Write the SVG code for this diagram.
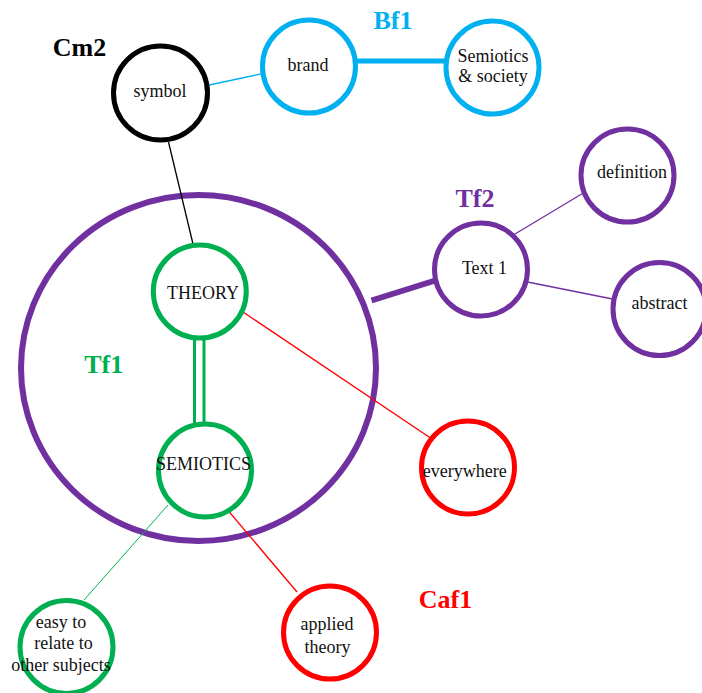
<svg xmlns="http://www.w3.org/2000/svg" width="702" height="693" viewBox="0 0 702 693">
  <style>
    .node { fill: #ffffff; stroke-width: 5; }
    .txt { font-family: "Liberation Serif", "Times New Roman", serif; font-size: 18px; fill: #111111; text-anchor: middle; }
    .lbl { font-family: "Liberation Serif", "Times New Roman", serif; font-size: 26px; font-weight: bold; text-anchor: middle; }
    .blue { stroke: #00B0F0; }
    .purple { stroke: #7030A0; }
    .green { stroke: #00B050; }
    .red { stroke: #FF0000; }
    .black { stroke: #000000; }
  </style>

  <rect x="0" y="0" width="702" height="693" fill="#ffffff"/>

  <!-- enclosing group ring -->
  <g id="group-tf1">
    <ellipse cx="198.5" cy="368" rx="177.5" ry="173" fill="none" stroke="#7030A0" stroke-width="6"/>
  </g>

  <!-- connectors -->
  <g id="connectors" fill="none" stroke-linecap="butt">
    <line x1="200" y1="87" x2="270" y2="72" stroke="#00B0F0" stroke-width="1.3"/>
    <line x1="340" y1="61" x2="460" y2="61" stroke="#00B0F0" stroke-width="5"/>
    <line x1="168.5" y1="142" x2="193" y2="244" stroke="#000000" stroke-width="1.3"/>
    <line x1="194.5" y1="336" x2="194.5" y2="426" stroke="#00B050" stroke-width="3"/>
    <line x1="204" y1="336" x2="204" y2="426" stroke="#00B050" stroke-width="3"/>
    <line x1="371.5" y1="300.5" x2="440" y2="279" stroke="#7030A0" stroke-width="6"/>
    <line x1="510" y1="237" x2="590" y2="189" stroke="#7030A0" stroke-width="1.3"/>
    <line x1="520" y1="280.5" x2="620" y2="300.5" stroke="#7030A0" stroke-width="1.3"/>
    <line x1="240" y1="310" x2="432" y2="439" stroke="#FF0000" stroke-width="1.3"/>
    <line x1="168" y1="505" x2="84" y2="600" stroke="#00B050" stroke-width="1"/>
    <line x1="226" y1="508" x2="297" y2="592" stroke="#FF0000" stroke-width="1.3"/>
  </g>

  <!-- group labels -->
  <text class="lbl" x="79.5" y="56" fill="#000000">Cm2</text>
  <text class="lbl" x="393" y="29" fill="#00B0F0">Bf1</text>
  <text class="lbl" x="475" y="207" fill="#7030A0">Tf2</text>
  <text class="lbl" x="103.7" y="373" fill="#00B050">Tf1</text>
  <text class="lbl" x="445.5" y="607.5" fill="#FF0000">Caf1</text>

  <!-- nodes -->
  <g id="symbol">
    <circle class="node black" cx="160.5" cy="93" r="47" stroke-width="5.5"/>
    <text class="txt" x="160" y="97">symbol</text>
  </g>
  <g id="brand">
    <circle class="node blue" cx="309" cy="66.5" r="46.5"/>
    <text class="txt" x="308" y="71">brand</text>
  </g>
  <g id="semiotics-society">
    <circle class="node blue" cx="492.5" cy="67.5" r="46.5"/>
    <text class="txt" x="493" y="62">Semiotics</text>
    <text class="txt" x="493" y="82">&amp; society</text>
  </g>
  <g id="definition">
    <circle class="node purple" cx="627.5" cy="175.5" r="46.5"/>
    <text class="txt" x="632" y="178">definition</text>
  </g>
  <g id="text-1">
    <circle class="node purple" cx="481" cy="269.5" r="46.5"/>
    <text class="txt" x="484.5" y="274">Text 1</text>
  </g>
  <g id="abstract">
    <circle class="node purple" cx="659.5" cy="309" r="46.5"/>
    <text class="txt" x="659.5" y="309">abstract</text>
  </g>
  <g id="theory">
    <circle class="node green" cx="199.8" cy="291.5" r="46.5"/>
    <text class="txt" x="203" y="299">THEORY</text>
  </g>
  <g id="semiotics">
    <circle class="node green" cx="205" cy="470.5" r="46.5"/>
    <text class="txt" x="203.5" y="470">SEMIOTICS</text>
  </g>
  <g id="everywhere">
    <circle class="node red" cx="468" cy="467.5" r="46.5"/>
    <text class="txt" x="464.7" y="477">everywhere</text>
  </g>
  <g id="easy-to-relate">
    <circle class="node green" cx="66.5" cy="647" r="46.5"/>
    <text class="txt" x="61" y="628">easy to</text>
    <text class="txt" x="63.5" y="649">relate to</text>
    <text class="txt" x="61" y="671">other subjects</text>
  </g>
  <g id="applied-theory">
    <circle class="node red" cx="330" cy="632.5" r="46.5"/>
    <text class="txt" x="327" y="630">applied</text>
    <text class="txt" x="327.5" y="653">theory</text>
  </g>
</svg>
